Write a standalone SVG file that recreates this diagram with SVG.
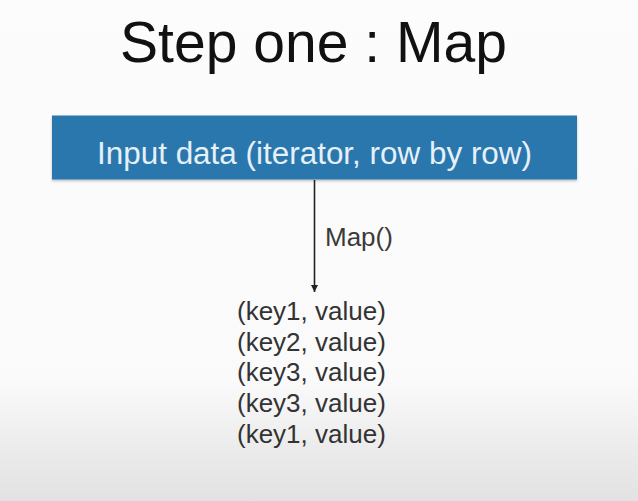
<svg xmlns="http://www.w3.org/2000/svg" width="638" height="501" viewBox="0 0 638 501">
  <defs>
    <linearGradient id="bg" x1="0" y1="0" x2="0" y2="1">
      <stop offset="0" stop-color="#fcfcfc"/>
      <stop offset="0.76" stop-color="#fafafa"/>
      <stop offset="0.9" stop-color="#ebebeb"/>
      <stop offset="1" stop-color="#e2e2e2"/>
    </linearGradient>
    <marker id="arrow" viewBox="0 0 10 10" refX="10" refY="5" markerWidth="7" markerHeight="7" markerUnits="userSpaceOnUse" orient="auto">
      <path d="M0,0 L10,5 L0,10 z" fill="#222"/>
    </marker>
    <filter id="shadow" x="-5%" y="-20%" width="110%" height="150%">
      <feDropShadow dx="0" dy="1.5" stdDeviation="1.2" flood-color="#000" flood-opacity="0.25"/>
    </filter>
  </defs>
  <style>
    .title { font-family: "Liberation Sans", Arial, sans-serif; font-size: 58px; fill: #111; }
    .boxtext { font-family: "Liberation Sans", Arial, sans-serif; font-size: 31px; fill: #e6f0f7; }
    .label { font-family: "Liberation Sans", Arial, sans-serif; font-size: 26px; fill: #3a3a3a; }
    .kv { font-family: "Liberation Sans", Arial, sans-serif; font-size: 26px; fill: #333; }
    .edge { stroke: #222; stroke-width: 1.6; fill: none; }
  </style>
  <rect x="0" y="0" width="638" height="501" fill="url(#bg)"/>

  <g id="title">
    <text class="title" x="120" y="62" textLength="387" lengthAdjust="spacingAndGlyphs">Step one : Map</text>
  </g>

  <g id="input-node">
    <rect x="52" y="115.5" width="525" height="64" fill="#2a77ae" filter="url(#shadow)"/>
    <text class="boxtext" x="97" y="164" textLength="435" lengthAdjust="spacingAndGlyphs">Input data (iterator, row by row)</text>
  </g>

  <g id="connectors">
    <line class="edge" x1="314.5" y1="180" x2="314.5" y2="292" marker-end="url(#arrow)"/>
    <text class="label" x="325" y="246">Map()</text>
  </g>

  <g id="output-node">
    <text class="kv" x="237" y="320">(key1, value)</text>
    <text class="kv" x="237" y="351">(key2, value)</text>
    <text class="kv" x="237" y="381">(key3, value)</text>
    <text class="kv" x="237" y="412">(key3, value)</text>
    <text class="kv" x="237" y="443">(key1, value)</text>
  </g>
</svg>
